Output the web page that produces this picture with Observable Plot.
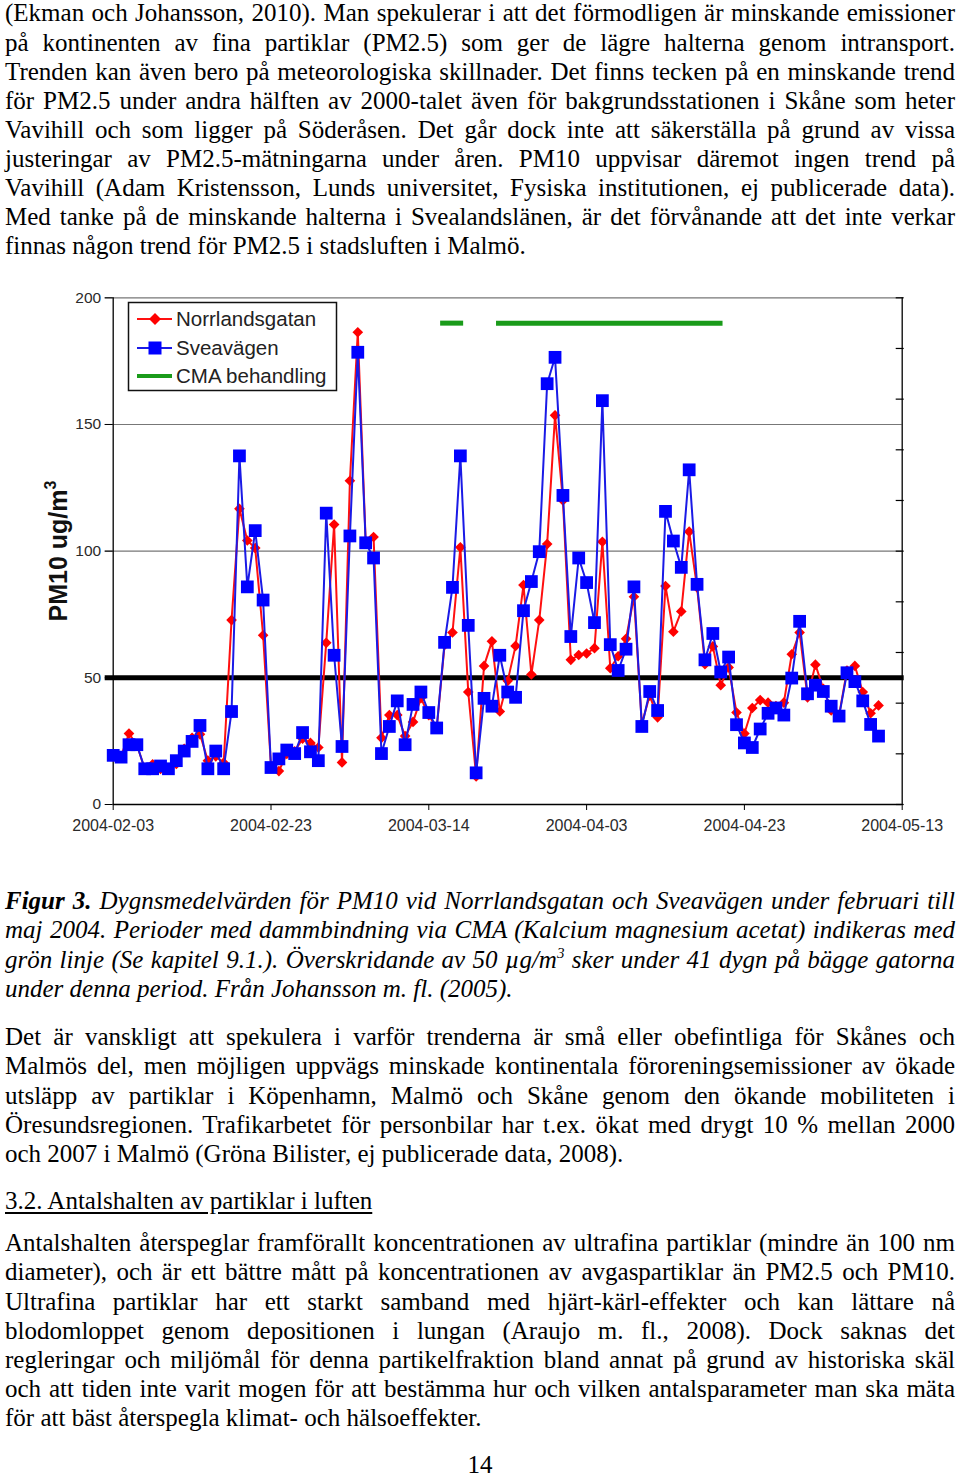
<!DOCTYPE html>
<html><head><meta charset="utf-8">
<script src="https://cdn.jsdelivr.net/npm/d3@7"></script>
<script src="https://cdn.jsdelivr.net/npm/@observablehq/plot@0.6"></script>
<style>
html,body{margin:0;padding:0;background:#fff;}
body{position:relative;width:960px;height:1477px;overflow:hidden;font-family:"Liberation Serif","Times New Roman",serif;color:#000;}
.blk{position:absolute;left:5px;width:950px;font-size:25px;line-height:29.1px;}
.ln{white-space:nowrap;}
.cap{font-style:italic;}
.sup{font-size:15px;position:relative;top:-10px;line-height:0;}
#chart{position:absolute;left:0;top:280px;}
</style></head><body>

<div class="blk" style="top:-1.6px">
<div class="ln" data-j="1">(Ekman och Johansson, 2010). Man spekulerar i att det förmodligen är minskande emissioner</div>
<div class="ln" data-j="1">på kontinenten av fina partiklar (PM2.5) som ger de lägre halterna genom intransport.</div>
<div class="ln" data-j="1">Trenden kan även bero på meteorologiska skillnader. Det finns tecken på en minskande trend</div>
<div class="ln" data-j="1">för PM2.5 under andra hälften av 2000-talet även för bakgrundsstationen i Skåne som heter</div>
<div class="ln" data-j="1">Vavihill och som ligger på Söderåsen. Det går dock inte att säkerställa på grund av vissa</div>
<div class="ln" data-j="1">justeringar av PM2.5-mätningarna under åren. PM10 uppvisar däremot ingen trend på</div>
<div class="ln" data-j="1">Vavihill (Adam Kristensson, Lunds universitet, Fysiska institutionen, ej publicerade data).</div>
<div class="ln" data-j="1">Med tanke på de minskande halterna i Svealandslänen, är det förvånande att det inte verkar</div>
<div class="ln">finnas någon trend för PM2.5 i stadsluften i Malmö.</div>
</div>

<div id="chart"></div>

<div class="blk cap" style="top:886.4px">
<div class="ln" data-j="1"><b>Figur 3.</b> Dygnsmedelvärden för PM10 vid Norrlandsgatan och Sveavägen under februari till</div>
<div class="ln" data-j="1">maj 2004. Perioder med dammbindning via CMA (Kalcium magnesium acetat) indikeras med</div>
<div class="ln" data-j="1">grön linje (Se kapitel 9.1.). Överskridande av 50 µg/m<span class="sup">3</span> sker under 41 dygn på bägge gatorna</div>
<div class="ln">under denna period. Från Johansson m. fl. (2005).</div>
</div>

<div class="blk" style="top:1022.4px">
<div class="ln" data-j="1">Det är vanskligt att spekulera i varför trenderna är små eller obefintliga för Skånes och</div>
<div class="ln" data-j="1">Malmös del, men möjligen uppvägs minskade kontinentala föroreningsemissioner av ökade</div>
<div class="ln" data-j="1">utsläpp av partiklar i Köpenhamn, Malmö och Skåne genom den ökande mobiliteten i</div>
<div class="ln" data-j="1">Öresundsregionen. Trafikarbetet för personbilar har t.ex. ökat med drygt 10 % mellan 2000</div>
<div class="ln">och 2007 i Malmö (Gröna Bilister, ej publicerade data, 2008).</div>
</div>

<div class="blk" style="top:1186.4px">
<div class="ln" style="text-decoration:underline;text-underline-offset:3px;">3.2. Antalshalten av partiklar i luften</div>
</div>

<div class="blk" style="top:1228.4px">
<div class="ln" data-j="1">Antalshalten återspeglar framförallt koncentrationen av ultrafina partiklar (mindre än 100 nm</div>
<div class="ln" data-j="1">diameter), och är ett bättre mått på koncentrationen av avgaspartiklar än PM2.5 och PM10.</div>
<div class="ln" data-j="1">Ultrafina partiklar har ett starkt samband med hjärt-kärl-effekter och kan lättare nå</div>
<div class="ln" data-j="1">blodomloppet genom depositionen i lungan (Araujo m. fl., 2008). Dock saknas det</div>
<div class="ln" data-j="1">regleringar och miljömål för denna partikelfraktion bland annat på grund av historiska skäl</div>
<div class="ln" data-j="1">och att tiden inte varit mogen för att bestämma hur och vilken antalsparameter man ska mäta</div>
<div class="ln">för att bäst återspegla klimat- och hälsoeffekter.</div>
</div>

<div class="blk" style="top:1450.4px;text-align:center;left:0;width:960px;">14</div>

<script>
// ---------- data ----------
const startDay = "2004-02-03";
const endDay = "2004-05-13";
const seriesNames = ["Norrlandsgatan", "Sveavägen", "CMA behandling"];
const norrlandsgatan = [
  19, 19, 28, 23.6, 14, 15.9, 14, 14, 16, 22,
  26.3, 27.7, 17.3, 19, 16.5, 72.8, 116.7, 104.2, 101.2, 66.8,
  15, 13.2, 20, 21, 26, 24.3, 22.5, 63.8, 110.5, 16.6,
  127.8, 186.4, 103.9, 105.6, 26.3, 35.3, 35.3, 27.0, 32.6, 42,
  35.3, 30, 63, 67.9, 101.5, 44.4, 11.1, 54.7, 64.4, 36.7,
  48.8, 62.6, 86.6, 51.3, 72.8, 102.8, 153.6, 120, 57.1, 59,
  59.6, 61.7, 103.7, 53.8, 58.5, 65.4, 82, 31.9, 43.0, 34.4,
  86.2, 68.2, 76.2, 107.7, 85.7, 55.4, 62.4, 47.1, 54.1, 36.3,
  28.0, 38.1, 41.2, 40.2, 38.8, 40.2, 59.3, 67.9, 42.3, 55.2,
  45.7, 37.1, 35.3, 52.9, 54.7, 44.4, 36.0, 39.1
];
const sveavagen = [
  19.4, 18.7, 23.6, 23.6, 14.1, 14.1, 15.2, 14.1, 17.3, 21.1,
  24.9, 31.2, 14.1, 21.1, 14.1, 36.7, 137.6, 85.9, 108.1, 80.7,
  14.6, 18.0, 21.5, 20.1, 28.4, 20.8, 17.3, 115.0, 58.9, 22.9,
  106.0, 178.5, 103.3, 97.3, 20.1, 30.8, 40.9, 23.6, 39.5, 44.4,
  36.3, 30.2, 64.0, 85.7, 137.6, 70.7, 12.5, 41.9, 38.8, 58.9,
  44.4, 42.3, 76.5, 88.0, 99.8, 166.1, 176.5, 122.0, 66.3, 97.3,
  87.6, 71.8, 159.4, 63.1, 52.9, 61.3, 85.9, 30.8, 44.6, 37.1,
  115.7, 104.0, 93.6, 132.1, 86.9, 57.1, 67.5, 52.3, 58.2, 31.5,
  24.3, 22.5, 29.8, 36.0, 38.1, 35.3, 49.9, 72.3, 43.7, 47.1,
  44.6, 38.8, 34.9, 52.0, 48.5, 40.9, 31.6, 27.0
];
const cmaStart = ["2004-03-15T12:00Z", "2004-03-22T14:00Z"];
const cmaEnd   = ["2004-03-18T10:00Z", "2004-04-20T07:00Z"];
const cmaLevel = 190;
const limitValue = 50;
const yTicks = [0, 50, 100, 150, 200];
const gridValues = [100, 150, 200];
const rightTicks = [0, 20, 40, 60, 80, 100, 120, 140, 160, 180, 200];
const xTickLabels = ["2004-02-03", "2004-02-23", "2004-03-14", "2004-04-03", "2004-04-23", "2004-05-13"];
const yLabel = "PM10 ug/m";

// ---------- text justification ----------
document.querySelectorAll(".ln").forEach(el => {
  const r = document.createRange(); r.selectNodeContents(el);
  const w = r.getBoundingClientRect().width;
  if (el.dataset.j) {
    if (w > 949) el.style.letterSpacing = ((949 - w) / el.textContent.length - 0.03) + "px";
    el.style.whiteSpace = "normal";
    el.style.textAlign = "justify";
    el.style.textAlignLast = "justify";
  }
});

// ---------- chart ----------
const t0 = new Date(startDay), t1 = new Date(endDay);
const days = d3.utcDay.range(t0, d3.utcDay.offset(t0, norrlandsgatan.length));
const data = days.map((d, i) => ({date: d, norr: norrlandsgatan[i], svea: sveavagen[i]}));
const cma = cmaStart.map((s, i) => ({start: new Date(s), end: new Date(cmaEnd[i]), level: cmaLevel}));
const rt = rightTicks.map(v => ({v, x: t1}));
const xTicks = xTickLabels.map(s => new Date(s));

const W = 960, H = 570;
const plot = Plot.plot({
  width: W, height: H,
  marginLeft: 112.7, marginRight: 58.3, marginTop: 17.3, marginBottom: 46,
  style: {fontFamily: "'Liberation Sans', Arial, sans-serif", fontSize: "16px", color: "#2a2a2a", background: "white"},
  x: {type: "utc", domain: [t0, t1]},
  y: {domain: [0, 200]},
  marks: [
    Plot.ruleY(gridValues, {stroke: "#777", strokeWidth: 1.2, insetLeft: -8}),
    Plot.ruleY([limitValue], {stroke: "#000", strokeWidth: 5, insetLeft: -8, insetRight: -2}),
    Plot.ruleX([t0], {stroke: "#000", strokeWidth: 1.3}),
    Plot.ruleX([t1], {stroke: "#000", strokeWidth: 1.3}),
    Plot.ruleY([0], {stroke: "#000", strokeWidth: 1.3}),
    Plot.ruleY(rt, {y: "v", x1: "x", x2: "x", insetLeft: -6, insetRight: -2, stroke: "#000", strokeWidth: 1.2}),
    Plot.axisY({ticks: yTicks, tickSize: 8, tickPadding: 4, fontSize: 15.5, label: null, stroke: "#000"}),
    Plot.axisX({ticks: xTicks, tickFormat: d3.utcFormat("%Y-%m-%d"), tickSize: 6, tickPadding: 9, fontSize: 16, label: null, stroke: "#000"}),
    Plot.ruleY(cma, {x1: "start", x2: "end", y: "level", stroke: "#1a9b1a", strokeWidth: 5}),
    Plot.line(data, {x: "date", y: "norr", stroke: "#ff1010", strokeWidth: 2}),
    Plot.dot(data, {x: "date", y: "norr", symbol: "diamond2", r: 4.8, fill: "#ff0000", stroke: "none"}),
    Plot.line(data, {x: "date", y: "svea", stroke: "#1a1ae6", strokeWidth: 2}),
    Plot.dot(data, {x: "date", y: "svea", symbol: "square", r: 7.2, fill: "#0000ff", stroke: "none"})
  ]
});
document.getElementById("chart").appendChild(plot);

// y label and legend
const svg = d3.select(plot);
const yl = svg.append("text")
  .attr("transform", "translate(67,271) rotate(-90)")
  .attr("text-anchor", "middle")
  .attr("font-family", "'Liberation Sans', Arial, sans-serif")
  .attr("font-weight", "bold").attr("font-size", 25).attr("fill", "#111");
yl.append("tspan").text(yLabel);
yl.append("tspan").attr("font-size", 16).attr("dy", -11).text("3");

const lg = svg.append("g").attr("font-family", "'Liberation Sans', Arial, sans-serif")
  .attr("font-size", 20.5).attr("text-anchor", "start");
lg.append("rect").attr("x", 128.5).attr("y", 22.5).attr("width", 208).attr("height", 88)
  .attr("fill", "white").attr("stroke", "#111").attr("stroke-width", 1.5);
const rowsY = [39, 68, 96];
const cols = ["#ff1010", "#1a1ae6", "#1a9b1a"];
seriesNames.forEach((name, i) => {
  const y = rowsY[i];
  lg.append("line").attr("x1", 137).attr("x2", 172).attr("y1", y).attr("y2", y)
    .attr("stroke", cols[i]).attr("stroke-width", i === 2 ? 4 : 2);
  if (i === 0) lg.append("path").attr("d", `M155,${y-6}L161,${y}L155,${y+6}L149,${y}Z`).attr("fill", "#ff0000");
  if (i === 1) lg.append("rect").attr("x", 148.5).attr("y", y - 6.5).attr("width", 13).attr("height", 13).attr("fill", "#0000ff");
  lg.append("text").attr("x", 176).attr("y", y).attr("dy", "0.35em").attr("text-anchor", "start")
    .attr("fill", "#222").text(name);
});
</script>
</body></html>
